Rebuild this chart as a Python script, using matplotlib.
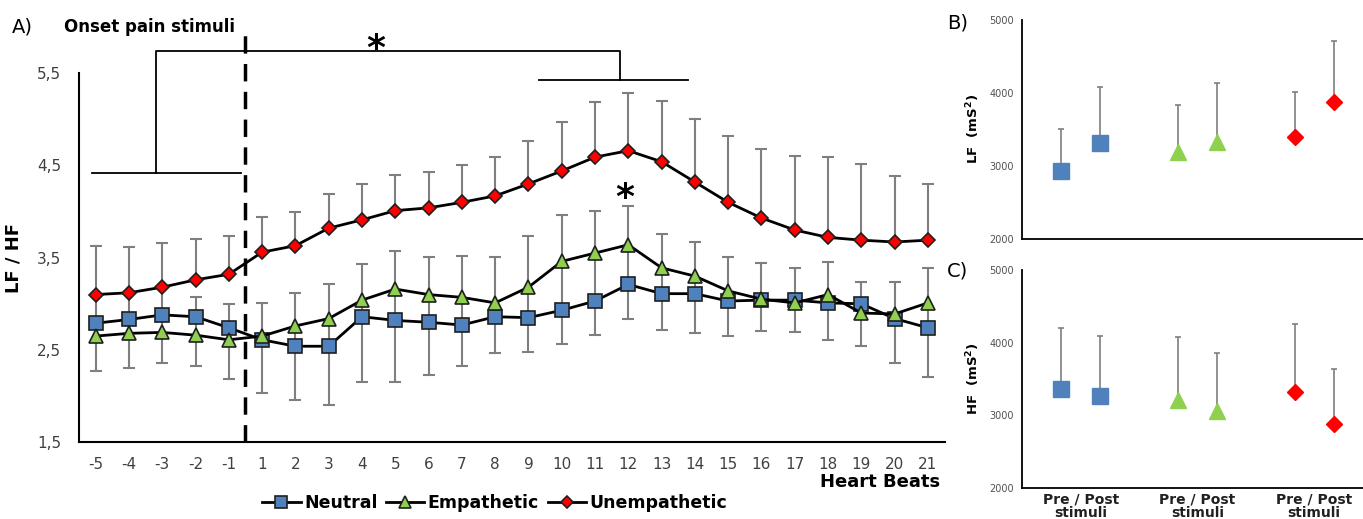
import matplotlib.pyplot as plt
import numpy as np

# heart beats around the pain onset
beats = ['-5', '-4', '-3', '-2', '-1'] + [str(i) for i in range(1, 22)]

# LF/HF means
neutral = [2.79, 2.83, 2.88, 2.86, 2.74, 2.61, 2.54, 2.54, 2.86, 2.82, 2.80, 2.77, 2.86,
           2.85, 2.93, 3.03, 3.21, 3.11, 3.11, 3.03, 3.04, 3.04, 3.01, 3.00, 2.84, 2.74]
empathetic = [2.65, 2.68, 2.69, 2.66, 2.61, 2.65, 2.76, 2.84, 3.04, 3.16, 3.10, 3.07, 3.01,
              3.18, 3.46, 3.55, 3.64, 3.39, 3.30, 3.14, 3.05, 3.01, 3.10, 2.90, 2.89, 3.01]
unempathetic = [3.10, 3.12, 3.18, 3.26, 3.32, 3.56, 3.63, 3.82, 3.91, 4.01, 4.04, 4.10, 4.17,
                4.30, 4.44, 4.59, 4.66, 4.54, 4.32, 4.10, 3.93, 3.80, 3.72, 3.69, 3.67, 3.69]

# error bar ends
unemp_err_top = [3.63, 3.62, 3.66, 3.70, 3.73, 3.94, 4.00, 4.19, 4.30, 4.40, 4.43, 4.50, 4.59,
                 4.76, 4.97, 5.19, 5.29, 5.20, 5.00, 4.82, 4.68, 4.60, 4.59, 4.52, 4.39, 4.30]
lower_err_top = [3.10, 3.12, 3.18, 3.07, 3.00, 3.01, 3.12, 3.21, 3.43, 3.57, 3.51, 3.52, 3.51,
                 3.73, 3.96, 4.01, 4.06, 3.76, 3.67, 3.51, 3.44, 3.39, 3.45, 3.24, 3.24, 3.39]
lower_err_bottom = [2.27, 2.30, 2.36, 2.33, 2.19, 2.03, 1.96, 1.90, 2.15, 2.15, 2.23, 2.33, 2.47,
                    2.48, 2.56, 2.66, 2.83, 2.72, 2.68, 2.65, 2.70, 2.69, 2.61, 2.54, 2.36, 2.21]

# panels B / C (pre, post)
lf_neutral = [2932, 3311]
lf_neutral_top = [3507, 4078]
lf_emp = [3190, 3322]
lf_emp_top = [3831, 4128]
lf_unemp = [3397, 3867]
lf_unemp_top = [4004, 4708]

hf_neutral = [3358, 3266]
hf_neutral_top = [4198, 4092]
hf_emp = [3206, 3064]
hf_emp_top = [4073, 3862]
hf_unemp = [3317, 2881]
hf_unemp_top = [4261, 3638]

BLUE = '#4F81BD'
GREEN = '#8FD14F'
RED = '#FF0000'
GRAY = '#7F7F7F'
TXT = '#404040'

fig = plt.figure(figsize=(13.63, 5.19), dpi=100)

# ---------- panel A ----------
ax = fig.add_axes([0.058, 0.148, 0.635, 0.711])
x = np.arange(len(beats))
neutral = np.array(neutral)
empathetic = np.array(empathetic)
unempathetic = np.array(unempathetic)

ax.errorbar(x, unempathetic, yerr=[np.zeros(len(x)), np.array(unemp_err_top) - unempathetic],
            fmt='none', ecolor=GRAY, elinewidth=1.5, capsize=4, capthick=1.5, zorder=1)
ax.errorbar(x, empathetic, yerr=[empathetic - np.array(lower_err_bottom),
                                 np.array(lower_err_top) - empathetic],
            fmt='none', ecolor=GRAY, elinewidth=1.5, capsize=4, capthick=1.5, zorder=1)

l1, = ax.plot(x, neutral, '-s', color='black', lw=2, mfc=BLUE, mec='#1F1F1F', mew=1.2, ms=10, zorder=3)
l2, = ax.plot(x, empathetic, '-^', color='black', lw=2, mfc=GREEN, mec='#1F1F1F', mew=1.2, ms=10.5, zorder=4)
l3, = ax.plot(x, unempathetic, '-D', color='black', lw=2, mfc=RED, mec='#1F1F1F', mew=1.2, ms=7.5, zorder=5)

ax.set_xlim(-0.5, 25.5)
ax.set_ylim(1.5, 5.5)
ax.set_yticks([1.5, 2.5, 3.5, 4.5, 5.5])
ax.set_yticklabels(['1,5', '2,5', '3,5', '4,5', '5,5'])
ax.set_xticks(x)
ax.set_xticklabels(beats)
ax.tick_params(length=0, labelsize=11, labelcolor=TXT)
ax.tick_params(axis='y', pad=13)
ax.tick_params(axis='x', pad=11)
for s in ['top', 'right']:
    ax.spines[s].set_visible(False)
for s in ['left', 'bottom']:
    ax.spines[s].set_linewidth(1.5)
ax.set_ylabel('LF / HF', fontsize=13, fontweight='bold', labelpad=10)

# onset line
ax.plot([4.5, 4.5], [1.5, 5.98], color='black', lw=2.5, ls=(0, (5, 3)), clip_on=False, zorder=6)

# significance brackets
ax.plot([-0.12, 4.35], [4.42, 4.42], color='black', lw=1.3, clip_on=False)
ax.plot([1.8, 1.8, 15.75, 15.75], [4.42, 5.74, 5.74, 5.43], color='black', lw=1.3, clip_on=False)
ax.plot([13.33, 17.78], [5.43, 5.43], color='black', lw=1.3, clip_on=False)
ax.text(8.4, 5.76, '*', fontsize=26, fontweight='bold', ha='center', va='center')
ax.text(15.9, 4.15, '*', fontsize=26, fontweight='bold', ha='center', va='center')

fig.text(0.009, 0.948, 'A)', fontsize=14, va='center')
fig.text(0.047, 0.948, 'Onset pain stimuli', fontsize=12, fontweight='bold', va='center')
fig.text(0.69, 0.072, 'Heart Beats', fontsize=13, fontweight='bold', ha='right', va='center')

fig.legend([l1, l2, l3], ['Neutral', 'Empathetic', 'Unempathetic'], loc='center',
           bbox_to_anchor=(0.363, 0.031), ncol=3, frameon=False, handlelength=2.2,
           handletextpad=0.2, columnspacing=0.5, markerscale=0.8,
           prop={'weight': 'bold', 'size': 12.5})


# ---------- panels B and C ----------
def side_panel(rect, vals, label):
    a = fig.add_axes(rect)
    styles = [('s', BLUE, 11), ('^', GREEN, 11), ('D', RED, 8.5)]
    for g, ((m, c, ms), (mean, top)) in enumerate(zip(styles, vals)):
        xs = np.array([g - 0.167, g + 0.167])
        mean = np.array(mean)
        a.errorbar(xs, mean, yerr=[np.zeros(2), np.array(top) - mean], fmt='none',
                   ecolor=GRAY, elinewidth=1.2, capsize=2.5, capthick=1.2, zorder=1)
        a.plot(xs, mean, ls='none', marker=m, color=c, mec=c, ms=ms, zorder=3)
    a.set_xlim(-0.5, 2.5)
    a.set_ylim(2000, 5000)
    a.set_yticks([2000, 3000, 4000, 5000])
    a.tick_params(length=0, labelsize=7, labelcolor='#505050', pad=6)
    a.set_xticks([0, 1, 2])
    a.set_xticklabels([])
    for s in ['top', 'right']:
        a.spines[s].set_visible(False)
    for s in ['left', 'bottom']:
        a.spines[s].set_linewidth(1.3)
    a.set_ylabel(label, fontsize=9.5, fontweight='bold', labelpad=5)
    return a


axb = side_panel([0.75, 0.54, 0.257, 0.422],
                 [(lf_neutral, lf_neutral_top), (lf_emp, lf_emp_top), (lf_unemp, lf_unemp_top)],
                 'LF  (mS$^\\mathbf{2}$)')
axc = side_panel([0.75, 0.06, 0.257, 0.42],
                 [(hf_neutral, hf_neutral_top), (hf_emp, hf_emp_top), (hf_unemp, hf_unemp_top)],
                 'HF  (mS$^\\mathbf{2}$)')
axc.set_xticklabels(['Pre / Post\nstimuli'] * 3)
axc.tick_params(axis='x', labelsize=10, labelcolor='#202020', pad=3)
for t in axc.get_xticklabels():
    t.set_fontweight('bold')
    t.set_linespacing(1.0)

fig.text(0.695, 0.955, 'B)', fontsize=14, va='center')
fig.text(0.695, 0.478, 'C)', fontsize=14, va='center')

plt.savefig('out.png', dpi=100)
